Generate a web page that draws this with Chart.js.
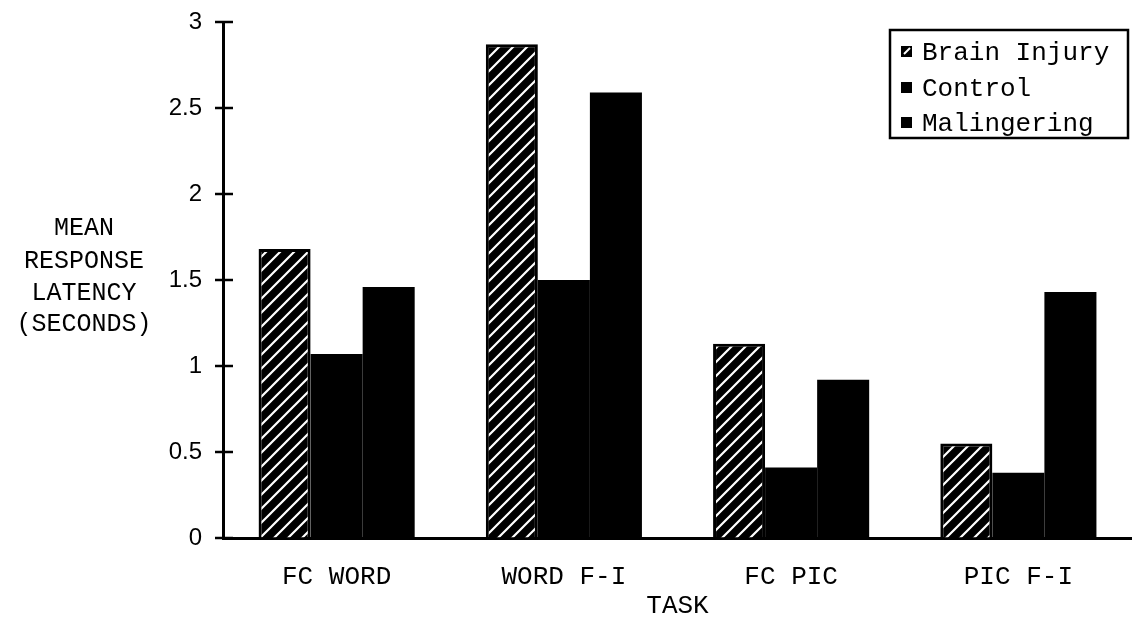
<!DOCTYPE html>
<html><head><meta charset="utf-8">
<script src="https://cdn.jsdelivr.net/npm/chart.js@4"></script>
<style>html,body{margin:0;padding:0;background:#fff;overflow:hidden}#wrap{width:1132px;height:622px}</style>
</head><body><div id="wrap"><canvas id="c" width="1132" height="622"></canvas></div>
<script>
const categories = ['FC WORD', 'WORD F-I', 'FC PIC', 'PIC F-I'];
const brainInjury = [1.68, 2.87, 1.13, 0.55];
const control = [1.07, 1.50, 0.41, 0.38];
const malingering = [1.46, 2.59, 0.92, 1.43];
const seriesNames = ['Brain Injury', 'Control', 'Malingering'];
const yTicks = [0, 0.5, 1, 1.5, 2, 2.5, 3];
const yTickLabels = ['0', '0.5', '1', '1.5', '2', '2.5', '3'];
const yTitleLines = ['MEAN', 'RESPONSE', 'LATENCY', '(SECONDS)'];
const xTitle = 'TASK';

const MONO = '"Liberation Mono", "DejaVu Sans Mono", monospace';
const SANS = '"Liberation Sans", Arial, sans-serif';

const canvas = document.getElementById('c');
const ctx = canvas.getContext('2d');

function makeHatch() {
  const s = 14;
  const t = document.createElement('canvas');
  t.width = s; t.height = s;
  const g = t.getContext('2d');
  g.fillStyle = '#000'; g.fillRect(0, 0, s, s);
  g.strokeStyle = '#fff'; g.lineWidth = 2.2; g.lineCap = 'butt';
  g.beginPath();
  g.moveTo(-3, s + 3); g.lineTo(s + 3, -3);
  g.moveTo(-3, 3); g.lineTo(3, -3);
  g.moveTo(s - 3, s + 3); g.lineTo(s + 3, s - 3);
  g.stroke();
  return ctx.createPattern(t, 'repeat');
}
const hatch = makeHatch();

const extras = {
  id: 'extras',
  afterDraw(chart) {
    const c = chart.ctx;
    const y = chart.scales.y;
    const area = chart.chartArea;
    c.save();
    c.strokeStyle = '#000'; c.lineWidth = 2.5;
    y.ticks.forEach((t, i) => {
      const py = y.getPixelForTick(i);
      c.beginPath(); c.moveTo(area.left - 8, py); c.lineTo(area.left + 10, py); c.stroke();
    });
    c.fillStyle = '#000';
    c.font = '25px ' + MONO;
    c.textAlign = 'center'; c.textBaseline = 'middle';
    const ys = [228, 261, 293, 324];
    yTitleLines.forEach((s, i) => c.fillText(s, 84, ys[i]));
    const lx = 890, ly = 30, lw = 238, lh = 108;
    c.fillStyle = '#fff'; c.fillRect(lx, ly, lw, lh);
    c.lineWidth = 2.5; c.strokeStyle = '#000';
    c.strokeRect(lx, ly, lw, lh);
    const rowY = [52, 88, 123];
    chart.data.datasets.forEach((ds, i) => {
      const ry = rowY[i];
      c.fillStyle = '#000';
      c.fillRect(901, ry - 6, 11, 11);
      if (i === 0) {
        c.strokeStyle = '#fff'; c.lineWidth = 2;
        c.beginPath(); c.moveTo(904, ry + 2); c.lineTo(910, ry - 4); c.stroke();
      }
      c.fillStyle = '#000';
      c.font = '26px ' + MONO;
      c.textAlign = 'left'; c.textBaseline = 'middle';
      c.fillText(ds.label, 922, ry + 1);
    });
    c.restore();
  }
};

new Chart(ctx, {
  type: 'bar',
  data: {
    labels: categories,
    datasets: [
      { label: seriesNames[0], data: brainInjury, backgroundColor: hatch, borderColor: '#000', borderWidth: 3, borderSkipped: 'bottom' },
      { label: seriesNames[1], data: control, backgroundColor: '#000', borderColor: '#000', borderWidth: 0 },
      { label: seriesNames[2], data: malingering, backgroundColor: '#000', borderColor: '#000', borderWidth: 0 }
    ]
  },
  options: {
    responsive: false,
    animation: false,
    devicePixelRatio: 1,
    layout: { padding: { top: 22, right: 0, bottom: 0, left: 0 } },
    plugins: { legend: { display: false }, tooltip: { enabled: false } },
    datasets: { bar: { categoryPercentage: 0.687, barPercentage: 1.0 } },
    scales: {
      x: {
        grid: { display: false, drawTicks: false },
        border: { display: true, color: '#000', width: 3 },
        ticks: { color: '#000', font: { family: MONO, size: 26 }, padding: 24, maxRotation: 0, autoSkip: false },
        title: { display: true, text: xTitle, color: '#000', font: { family: MONO, size: 26 }, padding: { top: 0, bottom: 0 } },
        afterFit(s) { s.height = 84; s.paddingLeft = 0; s.paddingRight = 0; }
      },
      y: {
        min: 0, max: 3,
        grid: { display: true, drawOnChartArea: false, drawTicks: false },
        border: { display: true, color: '#000', width: 3 },
        ticks: {
          color: '#000', font: { family: SANS, size: 24 }, padding: 21,
          callback(v) { const i = yTicks.indexOf(v); return i >= 0 ? yTickLabels[i] : ''; }
        },
        afterBuildTicks(s) { s.ticks = yTicks.map(v => ({ value: v })); },
        afterFit(s) { s.width = 223; s.paddingTop = 0; s.paddingBottom = 0; }
      }
    }
  },
  plugins: [extras]
});
</script>
</body></html>
